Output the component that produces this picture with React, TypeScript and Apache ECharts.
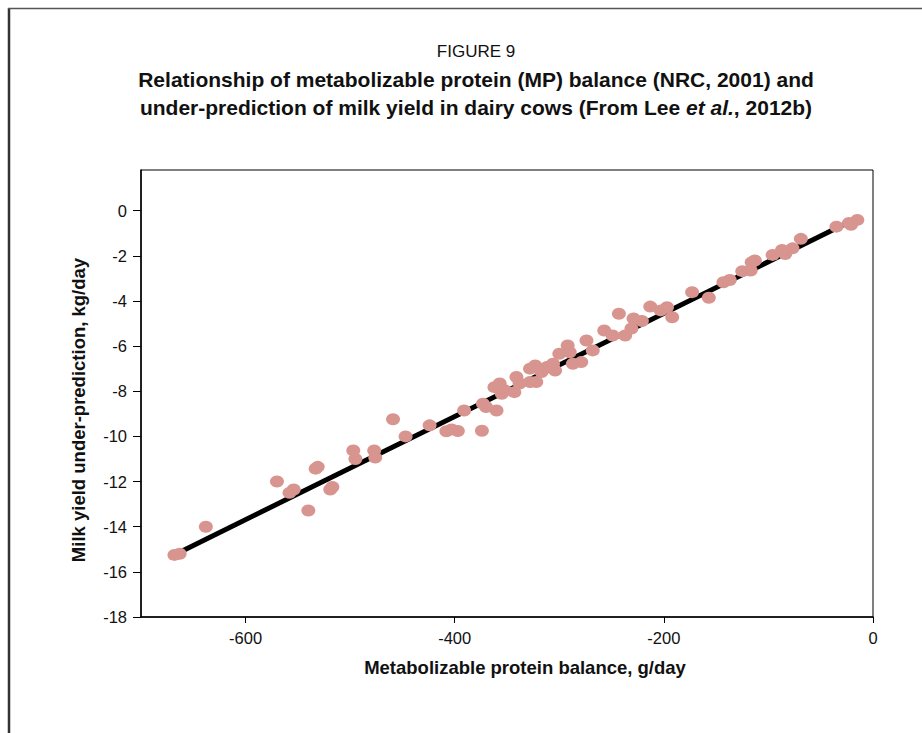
import React, { useEffect, useRef } from "react";
import * as echarts from "echarts";

const mpBalance: number[] = [
  -668, -663, -638, -570, -558, -554, -540, -533, -531, -519, -517, -497, -495, -477, -476, -459,
  -447, -424, -408, -403, -397, -391, -374, -373, -370, -360, -362, -357, -352, -355, -341, -343,
  -338, -328, -322, -323, -317, -328, -312, -307, -306, -304, -300, -292, -290, -287, -279, -274,
  -268, -257, -249, -243, -237, -231, -229, -221, -213, -203, -197, -192, -173, -157, -143, -137,
  -125, -117, -116, -113, -96, -87, -84, -77, -69, -35, -23, -21, -15,
];
const milkUnderPrediction: number[] = [
  -15.25, -15.2, -14.0, -12.0, -12.5, -12.35, -13.28, -11.43, -11.35, -12.35, -12.24, -10.62, -11.0, -10.62, -10.94, -9.24,
  -10.0, -9.51, -9.77, -9.69, -9.76, -8.85, -9.75, -8.55, -8.7, -8.85, -7.82, -7.66, -7.96, -8.11, -7.37, -8.04,
  -7.66, -7.59, -7.59, -6.86, -7.15, -7.0, -6.93, -6.86, -6.78, -7.08, -6.34, -5.97, -6.27, -6.78, -6.71, -5.75,
  -6.19, -5.31, -5.53, -4.57, -5.53, -5.22, -4.78, -4.89, -4.25, -4.42, -4.28, -4.72, -3.61, -3.86, -3.17, -3.07,
  -2.68, -2.65, -2.29, -2.21, -1.96, -1.74, -1.92, -1.67, -1.25, -0.71, -0.55, -0.63, -0.41,
];
const fitX: number[] = [-664, -25];
const fitY: number[] = [-15.15, -0.55];
const xTicks: number[] = [-600, -400, -200, 0];
const yTicks: number[] = [-18, -16, -14, -12, -10, -8, -6, -4, -2, 0];

const FONT = "'Liberation Sans', Arial, sans-serif";

export default function App() {
  const ref = useRef<HTMLDivElement>(null);
  useEffect(() => {
    if (!ref.current) return;
    const chart = echarts.init(ref.current, undefined, { renderer: "svg" });
    const points = mpBalance.map((x, i) => [x, milkUnderPrediction[i]]);
    const fit = fitX.map((x, i) => [x, fitY[i]]);
    chart.setOption({
      animation: false,
      backgroundColor: "#fff",
      textStyle: { fontFamily: FONT },
      title: {
        left: 471,
        top: 32,
        textAlign: "center",
        text:
          "{n|FIGURE 9}\n{b|Relationship of metabolizable protein (MP) balance (NRC, 2001) and}\n{b|under-prediction of milk yield in dairy cows (From Lee }{i|et al.}{b|, 2012b)}",
        textStyle: {
          fontWeight: "normal",
          rich: {
            n: { fontFamily: FONT, fontSize: 17, fontWeight: "normal", color: "#111", lineHeight: 28 },
            b: { fontFamily: FONT, fontSize: 21, fontWeight: "bold", color: "#111", lineHeight: 28.5 },
            i: { fontFamily: FONT, fontSize: 21, fontWeight: "bold", fontStyle: "italic", color: "#111", lineHeight: 28.5 },
          },
        },
      },
      graphic: [
        { type: "line", shape: { x1: 9, y1: 8, x2: 9, y2: 740 }, style: { stroke: "#333", lineWidth: 2.5 } },
        { type: "line", shape: { x1: 8, y1: 8.5, x2: 930, y2: 8.5 }, style: { stroke: "#555", lineWidth: 1.5 } },
        {
          type: "text",
          x: 525,
          y: 667,
          style: {
            text: "Metabolizable protein balance, g/day",
            fontFamily: FONT,
            fontSize: 18.5,
            fontWeight: "bold",
            fill: "#111",
            align: "center",
            verticalAlign: "middle",
          },
        },
        {
          type: "text",
          x: 78,
          y: 410,
          rotation: Math.PI / 2,
          style: {
            text: "Milk yield under-prediction, kg/day",
            fontFamily: FONT,
            fontSize: 18.5,
            fontWeight: "bold",
            fill: "#111",
            align: "center",
            verticalAlign: "middle",
          },
        },
      ],
      grid: {
        left: 141,
        right: 49,
        top: 170,
        bottom: 116,
        show: true,
        borderColor: "#000",
        borderWidth: 1,
        containLabel: false,
      },
      xAxis: {
        type: "value",
        min: -700,
        max: 0,
        axisLine: { show: true, onZero: false, lineStyle: { color: "#000", width: 1.5 } },
        axisTick: { show: true, length: 6, customValues: xTicks, lineStyle: { color: "#000" } },
        axisLabel: { customValues: xTicks, margin: 12, fontSize: 16.5, color: "#111", fontFamily: FONT },
        splitLine: { show: false },
      },
      yAxis: {
        type: "value",
        min: -18,
        max: 1.8,
        axisLine: { show: true, onZero: false, lineStyle: { color: "#000", width: 1.5 } },
        axisTick: { show: true, length: 8, customValues: yTicks, lineStyle: { color: "#000" } },
        axisLabel: { customValues: yTicks, margin: 14, fontSize: 16.5, color: "#111", fontFamily: FONT },
        splitLine: { show: false },
      },
      series: [
        {
          type: "line",
          data: fit,
          symbol: "none",
          lineStyle: { color: "#000", width: 5 },
          z: 1,
        },
        {
          type: "scatter",
          data: points,
          symbol: "circle",
          symbolSize: [14, 12],
          itemStyle: { color: "#d8958f", opacity: 1 },
          z: 2,
        },
      ],
    });
    return () => chart.dispose();
  }, []);
  return (
    <div
      ref={ref}
      style={{ position: "absolute", left: 0, top: 0, width: 922, height: 733, background: "#fff" }}
    />
  );
}
